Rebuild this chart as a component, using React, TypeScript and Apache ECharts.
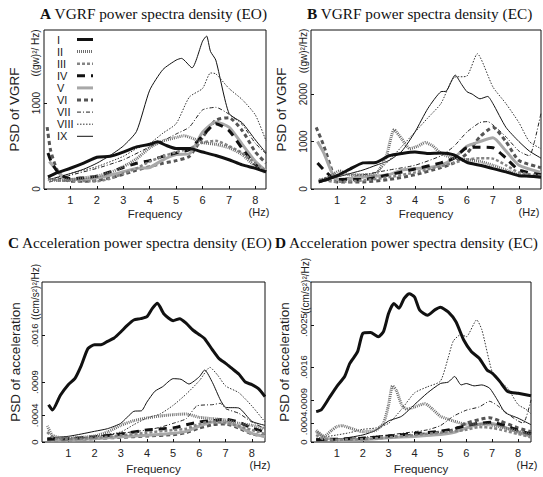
import React, { useEffect, useRef } from "react";
import * as echarts from "echarts";

const NAMES = ["I", "II", "III", "IV", "V", "VI", "VII", "VIII", "IX"];
const X_TICKS = [1, 2, 3, 4, 5, 6, 7, 8];

// Panel A: VGRF PSD (EO), (gw)^2/Hz
const A_I = [[0.15,140],[0.5,190],[1,241],[1.5,300],[2,370],[2.5,380],[3,430],[3.5,490],[4,520],[4.3,550],[4.6,510],[5,470],[5.5,470],[6,430],[6.5,390],[7,340],[7.5,280],[8,240],[8.4,200]];
const A_II = [[0.15,110],[0.5,100],[1,110],[1.5,130],[2,150],[2.5,190],[3,260],[3.5,350],[4,480],[4.5,560],[5,600],[5.3,620],[5.7,580],[6,540],[6.5,520],[7,480],[7.5,400],[8,260],[8.4,190]];
const A_III = [[0.15,130],[0.5,100],[1,95],[2,90],[2.5,120],[3,180],[3.5,240],[4,320],[4.5,380],[5,430],[5.5,470],[6,540],[6.5,560],[7,500],[7.5,420],[8,300],[8.4,210]];
const A_IV = [[0.15,420],[0.3,300],[0.6,170],[1,120],[1.5,130],[2,150],[2.5,200],[3,250],[3.5,300],[4,330],[4.5,380],[5,420],[5.5,460],[6,620],[6.5,760],[7,680],[7.5,470],[8,280],[8.4,200]];
const A_V = [[0.2,320],[0.4,250],[0.7,140],[1,110],[1.5,110],[2,130],[2.5,160],[3,200],[3.5,240],[4,250],[4.5,340],[5,400],[5.5,410],[6,660],[6.5,780],[7,720],[7.5,520],[8,320],[8.4,210]];
const A_VI = [[0.12,720],[0.25,450],[0.5,220],[0.8,110],[1,90],[1.5,90],[2,100],[2.5,130],[3,170],[3.5,220],[4,260],[4.5,300],[5,330],[5.5,380],[6,600],[6.5,800],[7,830],[7.5,680],[8,430],[8.4,300]];
const A_VII = [[0.2,80],[1,160],[2,240],[3,340],[4,490],[4.5,560],[5,640],[5.5,720],[6,920],[6.5,950],[7,870],[7.5,750],[8,530],[8.4,410]];
const A_VIII = [[0.2,90],[1,180],[2,260],[3,380],[3.5,470],[4,530],[4.5,650],[5,760],[5.5,1070],[6,1170],[6.3,1350],[6.5,1340],[7,1170],[7.5,1040],[8,860],[8.4,560]];
const A_IX = [[0.2,110],[1,180],[1.5,230],[2,300],[2.5,390],[3,500],[3.5,670],[4,1150],[4.5,1390],[5,1500],[5.2,1520],[5.6,1410],[6,1720],[6.15,1780],[6.3,1600],[6.5,1500],[7,880],[7.5,770],[8,570],[8.4,420]];

// Panel B: VGRF PSD (EC)
const B_I = [[0.3,150],[0.6,200],[1,280],[1.5,420],[2,550],[2.5,560],[3,700],[3.5,750],[4,780],[4.5,750],[5,760],[5.5,720],[6,560],[6.5,500],[7,430],[7.5,360],[8,280],[8.4,270],[8.85,250]];
const B_II = [[0.3,150],[0.7,250],[1.1,380],[1.5,300],[2,300],[2.5,320],[2.9,700],[3.2,1250],[3.5,1050],[3.8,850],[4.1,900],[4.4,980],[4.7,900],[5,750],[5.5,650],[6,620],[6.5,580],[7,500],[7.5,400],[8,300],[8.85,250]];
const B_III = [[0.3,200],[1,150],[2,180],[3,250],[4,350],[5,480],[5.5,550],[6,620],[6.5,650],[7,640],[7.5,500],[8,350],[8.85,280]];
const B_IV = [[0.25,550],[0.5,400],[0.8,250],[1,200],[2,200],[3,300],[4,420],[5,550],[5.5,650],[6,870],[6.5,880],[7,870],[7.5,650],[8,400],[8.85,300]];
const B_V = [[0.25,1000],[0.5,750],[0.8,350],[1,200],[1.5,220],[2,250],[3,300],[3.5,400],[4,430],[4.5,450],[5,500],[5.5,650],[6,900],[6.5,1000],[7,1080],[7.5,800],[8,500],[8.85,350]];
const B_VI = [[0.2,1300],[0.5,900],[0.8,400],[1,150],[2,150],[3,200],[4,300],[5,450],[5.5,550],[6,750],[6.5,1100],[7,1300],[7.5,1000],[8,600],[8.85,450]];
const B_VII = [[0.3,150],[1,200],[2,300],[3,400],[4,500],[5,700],[5.5,900],[6,1200],[6.5,1400],[6.8,1420],[7,1350],[7.5,1100],[8,800],[8.4,700],[8.6,1000],[8.85,1600]];
const B_VIII = [[0.3,200],[1,300],[2,300],[2.5,350],[3,600],[3.5,900],[4,1200],[4.5,1500],[5,1800],[5.5,2350],[6,2380],[6.4,2850],[7,2150],[7.5,1800],[8,1400],[8.4,1000],[8.85,850]];
const B_IX = [[0.3,130],[1,250],[2,400],[2.5,500],[3,600],[3.5,800],[4,1200],[4.5,1700],[5,2050],[5.2,2060],[5.55,2400],[5.8,2200],[6,2050],[6.2,2000],[6.5,1900],[6.8,1950],[7,1800],[7.5,1300],[8,1000],[8.4,800],[8.85,650]];

// Panel C: acceleration PSD (EO), units of 1e-4 (cm/s^2)^2/Hz
const C_I = [[0.25,5.6],[0.4,4.8],[0.7,7.0],[1,8.6],[1.25,9.5],[1.5,11.5],[1.75,14.0],[2,14.6],[2.25,14.6],[2.5,15.1],[2.75,15.6],[3,16.5],[3.25,17.5],[3.5,18.3],[3.75,18.5],[4,18.8],[4.2,20.0],[4.4,20.8],[4.65,19.2],[5,18.2],[5.25,18.5],[5.5,17.8],[5.75,16.8],[6,16.1],[6.2,15.5],[6.5,13.8],[6.75,12.5],[7,11.8],[7.25,11.0],[7.5,10.2],[7.75,9.0],[8,8.6],[8.25,8.0],[8.5,6.8]];
const C_II = [[0.2,2.4],[0.4,1.0],[0.8,0.6],[1,0.6],[2,0.9],[2.5,1.5],[3,2.5],[3.5,3.2],[4,3.6],[4.5,3.9],[5,4.1],[5.5,4.2],[6,3.7],[6.5,3.5],[7,3.3],[7.5,2.8],[8,2.5],[8.5,2.0]];
const C_III = [[0.2,1.5],[0.5,0.5],[1,0.4],[2,0.6],[3,1.0],[4,1.4],[5,1.8],[5.5,2.0],[6,2.7],[6.5,3.1],[7,2.8],[7.5,2.4],[8,1.8],[8.5,1.2]];
const C_IV = [[0.2,0.4],[1,0.5],[2,0.8],[3,1.2],[4,1.8],[5,2.1],[5.5,2.6],[6,3.0],[6.5,3.2],[7,3.4],[7.5,3.0],[8,2.1],[8.5,1.5]];
const C_V = [[0.2,0.3],[1,0.3],[2,0.5],[3,0.8],[4,1.0],[5,1.3],[5.5,1.6],[6,2.4],[6.5,3.0],[7,3.0],[7.5,2.3],[8,1.3],[8.5,0.8]];
const C_VI = [[0.2,0.3],[1,0.3],[2,0.5],[3,0.7],[4,0.9],[5,1.1],[5.5,1.4],[6,2.1],[6.5,2.6],[7,2.7],[7.5,2.1],[8,1.2],[8.5,0.9]];
const C_VII = [[0.2,0.4],[1,0.5],[2,0.8],[3,1.3],[4,1.8],[4.5,2.2],[5,2.8],[5.5,3.5],[5.9,5.4],[6.5,5.6],[6.8,5.8],[7,5.0],[7.5,4.3],[8,3.0],[8.5,2.0]];
const C_VIII = [[0.2,0.4],[1,0.6],[2,0.8],[3,1.5],[3.5,2.6],[4,3.6],[4.5,4.2],[5,5.5],[5.5,7.2],[6,9.2],[6.4,11.2],[6.7,10.0],[7,8.4],[7.5,7.4],[8,5.4],[8.5,3.0]];
const C_IX = [[0.2,0.6],[1,0.85],[1.5,1.2],[2,1.6],[2.5,2.0],[3,2.8],[3.5,4.6],[3.8,4.7],[4,6.0],[4.3,7.6],[4.6,8.3],[5,9.5],[5.3,9.4],[5.6,8.7],[6,9.8],[6.2,10.8],[6.5,8.9],[6.8,6.3],[7,5.2],[7.5,5.1],[8,3.1],[8.5,2.5]];

// Panel D: acceleration PSD (EC), units of 1e-4
const D_I = [[0.2,6.5],[0.4,6.9],[0.7,9.4],[1,11.9],[1.3,14],[1.5,16.8],[1.8,19.3],[2,23.2],[2.3,23.4],[2.6,22.5],[2.8,23.6],[3,27.5],[3.2,29.6],[3.4,28.6],[3.6,30.7],[3.8,31.7],[4,31.0],[4.2,28.2],[4.5,27.1],[4.8,28.3],[5,28.8],[5.3,27.8],[5.6,25.7],[5.9,21.8],[6.2,19.3],[6.5,17.9],[6.8,15.4],[7,14.7],[7.3,12.9],[7.6,10.8],[8,10.4],[8.3,10.1],[8.5,9.9]];
const D_II = [[0.2,2.5],[0.5,1.2],[0.8,2.5],[1,3.3],[1.2,3.5],[1.5,3.0],[2,2.2],[2.5,2.5],[2.8,4.0],[3.0,8.0],[3.15,12.0],[3.3,11.0],[3.5,8.0],[3.7,7.0],[4,7.5],[4.4,8.2],[4.7,7.0],[5,5.5],[5.5,4.5],[6,3.8],[6.5,3.8],[7,3.6],[7.5,3.0],[8,2.3],[8.5,1.5]];
const D_III = [[0.2,1.5],[0.5,0.6],[1,0.5],[2,0.6],[3,1.0],[4,1.5],[5,2.0],[6,2.6],[6.5,3.2],[7,3.0],[7.5,2.4],[8,1.7],[8.5,1.0]];
const D_IV = [[0.2,0.5],[1,0.6],[2,0.8],[3,1.3],[4,1.8],[5,2.3],[5.5,2.8],[6,3.5],[6.5,4.0],[7,4.2],[7.5,3.5],[8,2.5],[8.5,1.7]];
const D_V = [[0.2,2.2],[0.5,1.0],[1,0.4],[2,0.5],[3,0.9],[4,1.2],[5,1.6],[5.5,2.0],[6,3.0],[6.5,3.8],[6.9,4.0],[7.3,3.5],[7.8,2.5],[8.5,1.2]];
const D_VI = [[0.2,0.5],[1,0.5],[2,0.6],[3,1.0],[4,1.5],[5,2.1],[5.5,2.6],[6,4.0],[6.5,4.8],[6.9,5.2],[7.3,4.5],[8,3.0],[8.5,2.2]];
const D_VII = [[0.2,0.5],[1,0.6],[2,1.0],[3,1.5],[4,2.2],[4.5,2.6],[5,3.5],[5.5,5.5],[6,6.8],[6.5,7.5],[6.9,8.7],[7.2,7.8],[7.6,6.0],[8,4.5],[8.2,4.0],[8.5,9.0]];
const D_VIII = [[0.2,0.8],[1,1.5],[1.5,2.0],[2,2.7],[2.5,3.0],[3,4.0],[3.5,7.0],[4,10.5],[4.5,11.8],[5,13.0],[5.3,18.0],[5.5,21.6],[5.8,23.0],[6,22.5],[6.4,26.1],[6.6,24.0],[7,15.0],[7.3,13.0],[7.6,11.5],[8,8.0],[8.3,7.0],[8.5,6.0]];
const D_IX = [[0.2,0.5],[1,0.6],[2,1.5],[2.5,2.5],[3,4.5],[3.5,5.5],[4,8.0],[4.5,10.5],[5,12.5],[5.3,12.8],[5.55,14.0],[5.8,12.2],[6,12.5],[6.3,12.0],[6.6,12.2],[6.9,11.5],[7.2,9.0],[7.5,6.3],[8,5.1],[8.5,3.7]];

const VGRF_TICKS_A = [0, 1000];
const VGRF_TICKS_B = [0, 1000, 2000];
const ACC_TICKS_C = [0, 4, 9, 16];
const ACC_TICKS_D = [0, 4, 9, 16, 25];

const LINE_STYLES = [
  { color: "#111", width: 3, type: "solid" },
  { color: "#6e6e6e", width: 3, type: [1, 1] },
  { color: "#858585", width: 2.5, type: [3, 2] },
  { color: "#111", width: 3, type: [8, 6] },
  { color: "#a8a8a8", width: 3, type: "solid" },
  { color: "#555", width: 3, type: [4, 3] },
  { color: "#222", width: 1, type: [4, 2, 1, 2] },
  { color: "#333", width: 1, type: [1.5, 1.5] },
  { color: "#111", width: 1, type: "solid" },
];

const SANS = "Liberation Sans, Arial, sans-serif";
const SERIF = "Liberation Serif, Times New Roman, serif";

const PANELS = [
  { letter: "A", title: " VGRF power spectra density (EO)", data: [A_I, A_II, A_III, A_IV, A_V, A_VI, A_VII, A_VIII, A_IX],
    grid: { left: 44, top: 30, width: 222, height: 159 }, xMax: 8.4, yMax: 1850, yTicks: VGRF_TICKS_A, acc: false,
    yName: "PSD of VGRF", unit: "((gw)\u00b2/ Hz)", unitX: 35, unitY: 53, titleX: 40, titleY: 15, hzX: 259 },
  { letter: "B", title: " VGRF power spectra density (EC)", data: [B_I, B_II, B_III, B_IV, B_V, B_VI, B_VII, B_VIII, B_IX],
    grid: { left: 311, top: 30, width: 230, height: 159 }, xMax: 8.85, yMax: 3350, yTicks: VGRF_TICKS_B, acc: false,
    yName: "PSD of VGRF", unit: "((gw)\u00b2/Hz)", unitX: 303, unitY: 51, titleX: 307, titleY: 15, hzX: 529 },
  { letter: "C", title: " Acceleration power spectra density (EO)", data: [C_I, C_II, C_III, C_IV, C_V, C_VI, C_VII, C_VIII, C_IX],
    grid: { left: 42, top: 282, width: 223, height: 160 }, xMax: 8.5, yMax: 24, yTicks: ACC_TICKS_C, acc: true,
    yName: "PSD of acceleration", unit: "((cm/s\u00b2)\u00b2/Hz)", unitX: 35, unitY: 292, titleX: 8, titleY: 244, hzX: 260 },
  { letter: "D", title: " Acceleration power spectra density (EC)", data: [D_I, D_II, D_III, D_IV, D_V, D_VI, D_VII, D_VIII, D_IX],
    grid: { left: 311, top: 282, width: 220, height: 160 }, xMax: 8.5, yMax: 34.2, yTicks: ACC_TICKS_D, acc: true,
    yName: "PSD of acceleration", unit: "((cm/s\u00b2)\u00b2/Hz)", unitX: 305, unitY: 286, titleX: 275, titleY: 244, hzX: 527 },
];

function accLabel(v: number) {
  if (v === 0) return "0";
  return "." + String(v).padStart(4, "0");
}

export default function App() {
  const ref = useRef<HTMLDivElement>(null);
  useEffect(() => {
    if (!ref.current) return;
    const chart = echarts.init(ref.current, null, { renderer: "svg" });
    const grids: any[] = [];
    const xAxes: any[] = [];
    const yAxes: any[] = [];
    const series: any[] = [];
    const titles: any[] = [];
    const graphics: any[] = [];

    PANELS.forEach((p, k) => {
      grids.push({ ...p.grid, show: true, borderColor: "#111", borderWidth: 1, containLabel: false });
      xAxes.push({
        gridIndex: k, type: "value", min: 0, max: p.xMax, interval: 1,
        axisLine: { show: false },
        axisTick: { show: true, inside: true, length: 3, customValues: X_TICKS, lineStyle: { color: "#111" } },
        axisLabel: { customValues: X_TICKS, fontSize: 11, color: "#222", margin: 5, fontFamily: SANS },
        splitLine: { show: false },
        name: "Frequency", nameLocation: "middle", nameGap: p.acc ? 21 : 19,
        nameTextStyle: { fontSize: 11.5, color: "#222", fontFamily: SANS },
      });
      yAxes.push({
        gridIndex: k, type: "value", min: 0, max: p.yMax,
        axisLine: { show: false },
        axisTick: { show: true, inside: true, length: 3, customValues: p.yTicks, lineStyle: { color: "#111" } },
        axisLabel: {
          customValues: p.yTicks, rotate: 90, fontSize: p.acc ? 9.5 : 10, color: "#222", margin: 3, fontFamily: SANS,
          formatter: (v: number) => (p.acc ? accLabel(v) : String(v)),
        },
        splitLine: { show: false },
        name: p.yName, nameLocation: "middle", nameRotate: 90, nameGap: p.acc ? 20 : 23,
        nameTextStyle: { fontSize: 13.5, color: "#222", fontFamily: SANS },
      });
      p.data.forEach((d, i) => {
        const st = LINE_STYLES[i];
        series.push({
          type: "line", name: NAMES[i], xAxisIndex: k, yAxisIndex: k, data: d,
          showSymbol: false, smooth: 0.2, clip: true, z: 10 - i,
          lineStyle: { color: st.color, width: st.width, type: st.type, cap: "butt" },
        });
      });
      titles.push({
        text: "{b|" + p.letter + "}" + p.title, left: p.titleX, top: p.titleY - 9, padding: 0,
        textStyle: {
          fontFamily: SERIF, fontSize: 15.3, fontWeight: "normal", color: "#111",
          rich: { b: { fontFamily: SERIF, fontSize: 15.3, fontWeight: "bold", color: "#111" } },
        },
      });
      const g = p.grid;
      graphics.push({
        type: "text", x: p.unitX, y: p.unitY, rotation: Math.PI / 2,
        style: { text: p.unit, fontSize: 10, fontFamily: SANS, fill: "#222", align: "center", verticalAlign: "middle", textAlign: "center", textVerticalAlign: "middle" },
      });
      graphics.push({
        type: "text", x: p.hzX, y: g.top + g.height + 23,
        style: { text: "(Hz)", fontSize: 11, fontFamily: SANS, fill: "#222", align: "center", verticalAlign: "middle", textAlign: "center", textVerticalAlign: "middle" },
      });
    });

    // legend (panel A)
    NAMES.forEach((n, i) => {
      const y = 39.5 + i * 12.1;
      const st = LINE_STYLES[i];
      graphics.push({
        type: "text", x: 57, y,
        style: { text: n, fontSize: 11, fontFamily: SANS, fill: "#222", align: "left", verticalAlign: "middle", textAlign: "left", textVerticalAlign: "middle" },
      });
      graphics.push({
        type: "line", shape: { x1: 77, y1: y, x2: 93, y2: y },
        style: { stroke: st.color, lineWidth: st.width, lineDash: st.type === "solid" ? null : st.type },
      });
    });

    chart.setOption({
      animation: false,
      backgroundColor: "#fff",
      title: titles,
      grid: grids,
      xAxis: xAxes,
      yAxis: yAxes,
      series,
      graphic: graphics,
    });
    return () => chart.dispose();
  }, []);
  return <div ref={ref} style={{ position: "fixed", left: 0, top: 0, width: 543, height: 477 }} />;
}
